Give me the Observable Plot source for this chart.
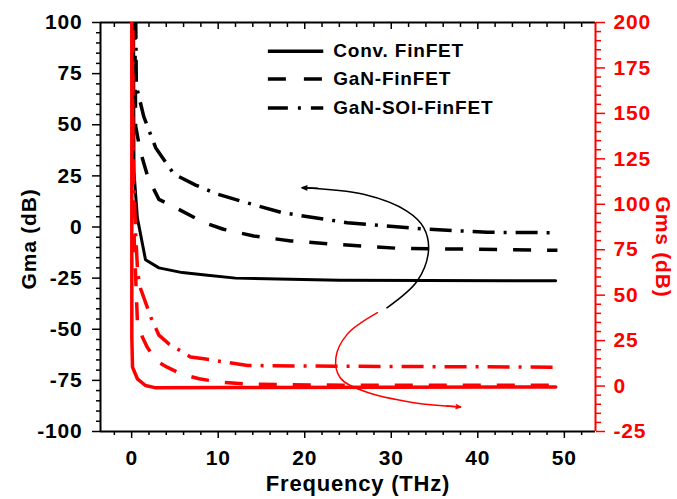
<!DOCTYPE html>
<html>
<head>
<meta charset="utf-8">
<script src="https://cdn.jsdelivr.net/npm/d3@7"></script>
<script src="https://cdn.jsdelivr.net/npm/@observablehq/plot@0.6"></script>
<style>
  body { margin: 0; background: #fff; }
  #chart svg text { letter-spacing: 0.8px; }
  #chart svg text.wide { letter-spacing: 1.3px; }
</style>
</head>
<body>
<div id="chart"></div>
<script>
// ---- data (frequency in THz, value in dB) ----
const seriesNames = ["Conv. FinFET", "GaN-FinFET", "GaN-SOI-FinFET"];

// Gma (left axis)
const convGma = [[0.05,400],[0.27,27],[0.66,4.5],[1.6,-16],[3.15,-20],[5.85,-22.3],[8.5,-23.5],[12,-25],[24,-26],[49,-26.3]];
const ganGma  = [[0.1,250],[0.46,49.4],[1.0,37],[1.9,24],[3.15,13.5],[4.7,10.3],[8.3,2.3],[10.6,-1.1],[14.1,-4.4],[18.4,-6.8],[23,-8.3],[30.7,-10.4],[49.2,-11.4]];
const soiGma  = [[0.15,250],[0.54,69],[1.4,54],[2.77,38.8],[4.9,25.8],[7.4,20.5],[9.9,16.1],[12.6,12.7],[17.4,7],[24.9,2.1],[33.7,-1],[41.1,-2.6],[49,-2.8]];

// Gms (right axis)
const convGms = [[0,1000],[0.02,27],[0.1,10.4],[0.66,4],[1.6,0.3],[2.8,-1],[10,-0.8],[49,-0.5]];
const ganGms  = [[0.01,1000],[0.1,150],[0.3,80],[0.66,36],[1.24,27],[1.8,21.4],[2.8,14],[4.1,10.4],[5.7,6.7],[7.8,4],[10.3,2.1],[13.7,1.0],[25,0.4],[49,0.4]];
const soiGms  = [[0.02,1000],[0.15,130],[0.45,85],[0.7,62],[1.04,53.5],[1.8,43.4],[2.2,38],[3.15,28],[4.3,23.2],[6.8,16],[8.35,15],[13.4,11.3],[24,10.9],[49,10.4]];

// tick values
const xMajor = [0, 10, 20, 30, 40, 50];
const xMinor = d3.range(-2, 53, 2).filter(v => v % 10 !== 0);
const gmaMajor = d3.range(-100, 101, 25);
const gmaMinor = d3.range(-100, 101, 5).filter(v => v % 25 !== 0);
const gmsMajor = d3.range(-25, 201, 25);
const gmsMinor = d3.range(-25, 201, 5).filter(v => v % 25 !== 0);

// annotation arrows (frequency, Gma-coordinates)
const blackArrowPath = [[29.5,-39.5],[33.0,-26.4],[34.3,-11.7],[33.75,-0.3],[31.8,7.8],[26.8,16],[19.7,19.2]];
const redArrowPath   = [[28.4,-41.9],[24.9,-52.5],[23.6,-63.9],[24.1,-73.7],[26.8,-80.2],[32.6,-85.9],[38.0,-88.0]];
const arrowHeads = [
  {x1: 21.5, y1: 18.9, x2: 19.7, y2: 19.2, c: "black"},
  {x1: 36.4, y1: -87.5, x2: 38.0, y2: -88.0, c: "red"}
];

// legend rows (Gma coordinates)
const legendRows = [
  {name: seriesNames[0], y: 86},
  {name: seriesNames[1], y: 72.4},
  {name: seriesNames[2], y: 58.2}
];

// ---- mapping of the right (Gms) axis onto the left (Gma) scale ----
const gmsToGma = d3.scaleLinear().domain([-25, 200]).range([-100, 100]);
const gmaToGms = v => gmsToGma.invert(v);

const fx = d => d[0];
const fyL = d => d[1];
const fyR = d => gmsToGma(d[1]);

const DASH = "18,16";
const DASHDOT = "22,9,3,9";
const FONT = "'Liberation Sans', Arial, sans-serif";

const chart = Plot.plot({
  width: 677,
  height: 499,
  marginLeft: 100,
  marginRight: 82,
  marginTop: 22,
  marginBottom: 68,
  x: {domain: [-3.6, 53.6]},
  y: {domain: [-100, 100]},
  style: {fontFamily: FONT, fontWeight: "bold", background: "white", color: "black", overflow: "visible"},
  marks: [
    // axes
    Plot.axisX({ticks: xMajor, tickSize: 7, tickPadding: 12, fontSize: 21, strokeWidth: 1.5, label: null, tickFormat: d => String(d)}),
    Plot.axisX({ticks: xMinor, tickSize: 4, strokeWidth: 1.5, label: null, tickFormat: () => ""}),
    Plot.axisX({anchor: "top", ticks: xMajor, tickSize: -6, strokeWidth: 1.5, label: null, tickFormat: () => ""}),
    Plot.axisX({anchor: "top", ticks: xMinor, tickSize: -4, strokeWidth: 1.5, label: null, tickFormat: () => ""}),
    Plot.axisY({ticks: gmaMajor, tickSize: 8, tickPadding: 10, fontSize: 21, strokeWidth: 1.5, label: null, tickFormat: d => String(d)}),
    Plot.axisY({ticks: gmaMinor, tickSize: 4, strokeWidth: 1.5, label: null, tickFormat: () => ""}),
    Plot.axisY({anchor: "right", ticks: gmsMajor.map(v => gmsToGma(v)), tickSize: 9, tickPadding: 9, fontSize: 21, strokeWidth: 1.5, color: "#ff0000", label: null,
                tickFormat: d => String(Math.round(gmaToGms(d)))}),
    Plot.axisY({anchor: "right", ticks: gmsMinor.map(v => gmsToGma(v)), tickSize: 5, strokeWidth: 1.5, color: "#ff0000", label: null, tickFormat: () => ""}),

    // frame
    Plot.ruleY([-100], {stroke: "black", strokeWidth: 2}),
    Plot.ruleY([100], {stroke: "black", strokeWidth: 2}),
    Plot.ruleX([-3.6], {stroke: "black", strokeWidth: 2}),

    // Gma curves (black)
    Plot.line(convGma, {x: fx, y: fyL, stroke: "black", strokeWidth: 3, clip: true}),
    Plot.line(ganGma, {x: fx, y: fyL, stroke: "black", strokeWidth: 3.5, strokeDasharray: DASH, strokeLinecap: "butt", clip: true}),
    Plot.line(soiGma, {x: fx, y: fyL, stroke: "black", strokeWidth: 3.5, strokeDasharray: DASHDOT, strokeLinecap: "butt", clip: true}),

    // Gms curves (red)
    Plot.line(ganGms, {x: fx, y: fyR, stroke: "#ff0000", strokeWidth: 3.5, strokeDasharray: DASH, strokeLinecap: "butt", clip: true}),
    Plot.line(soiGms, {x: fx, y: fyR, stroke: "#ff0000", strokeWidth: 3.5, strokeDasharray: DASHDOT, strokeLinecap: "butt", clip: true}),
    Plot.line(convGms, {x: fx, y: fyR, stroke: "#ff0000", strokeWidth: 3.5, clip: true}),

    // right frame (red)
    Plot.ruleX([53.6], {stroke: "#ff0000", strokeWidth: 2}),

    // annotation arrows
    Plot.line(blackArrowPath, {x: fx, y: fyL, curve: "catmull-rom", stroke: "black", strokeWidth: 1.5}),
    Plot.line(redArrowPath, {x: fx, y: fyL, curve: "catmull-rom", stroke: "#ff0000", strokeWidth: 1.5}),
    Plot.arrow(arrowHeads, {x1: "x1", y1: "y1", x2: "x2", y2: "y2", stroke: "c", strokeWidth: 1.5, headLength: 15, headAngle: 45}),

    // legend
    Plot.ruleY([legendRows[0]], {y: "y", x1: 15.8, x2: 22.2, stroke: "black", strokeWidth: 3.5}),
    Plot.ruleY([legendRows[1]], {y: "y", x1: 15.8, x2: 22.2, stroke: "black", strokeWidth: 3.5, strokeDasharray: "18,18"}),
    Plot.ruleY([legendRows[2]], {y: "y", x1: 15.8, x2: 22.2, stroke: "black", strokeWidth: 3.5, strokeDasharray: "20,10,3,10"}),
    Plot.text(legendRows, {x: 23.3, y: "y", text: "name", textAnchor: "start", fontSize: 19, fontWeight: "bold", fill: "black"}),

    // axis titles
    Plot.text(["Gma (dB)"], {frameAnchor: "left", textAnchor: "middle", lineAnchor: "middle", rotate: -90, dx: -71, dy: 12, fontSize: 21, fontWeight: "bold", fill: "black", className: "wide"}),
    Plot.text(["Gms (dB)"], {frameAnchor: "right", textAnchor: "middle", lineAnchor: "middle", rotate: 90, dx: 67, dy: 20, fontSize: 21, fontWeight: "bold", fill: "#ff0000", className: "wide"}),
    Plot.text(["Frequency (THz)"], {frameAnchor: "bottom", textAnchor: "middle", lineAnchor: "middle", dx: 10, dy: 52, fontSize: 22, fontWeight: "bold", fill: "black", className: "wide"})
  ]
});

document.getElementById("chart").append(chart);
</script>
</body>
</html>
